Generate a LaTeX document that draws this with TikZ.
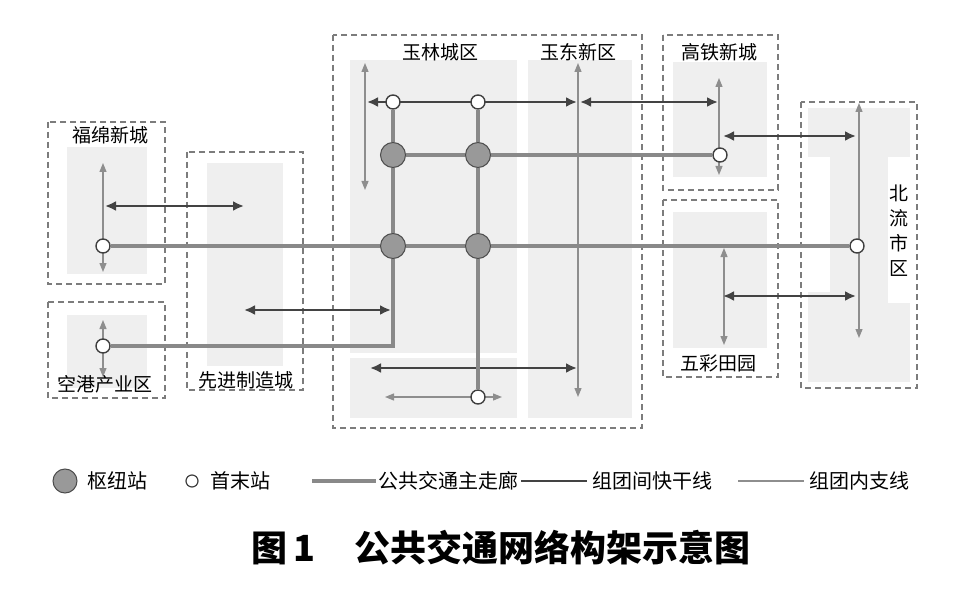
\documentclass[tikz,border=0pt]{standalone}
\usepackage{fontspec}
\newfontfamily\cjk{Noto Sans CJK SC}
\usetikzlibrary{arrows.meta,backgrounds,positioning}

\definecolor{corridorgray}{HTML}{898989}
\definecolor{expressgray}{HTML}{434343}
\definecolor{branchgray}{HTML}{8E8E8E}
\definecolor{zonefill}{HTML}{EFEFEF}
\definecolor{boxgray}{HTML}{7C7C7C}
\definecolor{hubfill}{HTML}{999999}

\begin{document}
\begin{tikzpicture}[x=1pt,y=-1pt,
    every node/.style={font=\cjk\fontsize{19}{19}\selectfont,inner sep=0pt},
    hub/.style={circle,draw=black!70,fill=hubfill,line width=1pt,minimum size=25pt},
    terminal/.style={circle,draw=black!75,fill=white,line width=1.4pt,minimum size=14pt},
    corridor/.style={draw=corridorgray,line width=4.8pt},
    express/.style={draw=expressgray,line width=2.8pt,
      {Latex[length=11pt,width=10pt]}-{Latex[length=11pt,width=10pt]}},
    branch/.style={draw=branchgray,line width=1.2pt,
      {Triangle[length=9pt,width=7pt]}-{Triangle[length=9pt,width=7pt]}},
    zone/.style={fill=zonefill},
    groupbox/.style={draw=boxgray,line width=1.1pt,dash pattern=on 6pt off 4pt}]

  % stations
  \node[terminal] (t-fm) at (103,246) {};
  \node[terminal] (t-kg) at (103,346) {};
  \node[terminal] (t-yl1) at (393,102) {};
  \node[terminal] (t-yl2) at (478,102) {};
  \node[terminal] (t-yd) at (478,397) {};
  \node[terminal] (t-gt) at (720,155) {};
  \node[terminal] (t-bl) at (857,246) {};
  \node[hub] (h-nw) at (393,155) {};
  \node[hub] (h-ne) at (478,155) {};
  \node[hub] (h-sw) at (393,246) {};
  \node[hub] (h-se) at (478,246) {};

  % ends of express and branch lines
  \coordinate (yl-a) at (365,63);   \coordinate (yl-b) at (365,190);
  \coordinate (yd-a) at (578,63);   \coordinate (yd-b) at (578,397);
  \coordinate (fm-a) at (103,163);  \coordinate (fm-b) at (103,272);
  \coordinate (kg-a) at (103,320);  \coordinate (kg-b) at (103,377);
  \coordinate (gt-a) at (719,78);   \coordinate (gt-b) at (719,175);
  \coordinate (bl-a) at (859,103);  \coordinate (bl-b) at (859,338);
  \coordinate (wc-a) at (724,248);  \coordinate (wc-b) at (724,345);
  \coordinate (sb-a) at (385,397);  \coordinate (sb-b) at (502,397);
  \coordinate (ex1-a) at (367,102); \coordinate (ex1-b) at (577,102);
  \coordinate (ex2-a) at (580,102); \coordinate (ex2-b) at (718,102);
  \coordinate (ex3-a) at (105,206); \coordinate (ex3-b) at (244,206);
  \coordinate (ex4-a) at (244,310); \coordinate (ex4-b) at (391,310);
  \coordinate (ex5-a) at (370,368); \coordinate (ex5-b) at (577,368);
  \coordinate (ex6-a) at (723,136); \coordinate (ex6-b) at (856,136);
  \coordinate (ex7-a) at (723,296); \coordinate (ex7-b) at (856,296);

  % labels
  \node (fm) at (110,135) {福绵新城};
  \node (kg) at (105,384) {空港产业区};
  \node (xj) at (246,380) {先进制造城};
  \node (yl) at (440,52) {玉林城区};
  \node (yd) at (578,52) {玉东新区};
  \node (gt) at (719,52) {高铁新城};
  \node (wc) at (718,363) {五彩田园};
  \node[align=center,font=\cjk\fontsize{19}{25}\selectfont] (bl) at (899,231) {北\\流\\市\\区};

  \begin{scope}[on background layer]
    \fill[white] (0,0) rectangle (969,604);
    % built-up areas
    \fill[zone] (67,147) rectangle (147,274);
    \fill[zone] (67,315) rectangle (147,388);
    \fill[zone] (207,163) rectangle (283,366);
    \fill[zone] (350,60) rectangle (517,353);
    \fill[zone] (350,358) rectangle (517,418);
    \fill[zone] (528,60) rectangle (632,418);
    \fill[zone] (673,62) rectangle (767,177);
    \fill[zone] (673,212) rectangle (767,348);
    \fill[zone] (808,108) rectangle (910,382);
    \fill[white] (808,157) rectangle (830,292);
    \fill[white] (888,157) rectangle (910,303);
    % groups
    \draw[groupbox] (48,122) rectangle (165,284);
    \draw[groupbox] (48,302) rectangle (165,398);
    \draw[groupbox] (187,152) rectangle (303,390);
    \draw[groupbox] (333,35) rectangle (642,428);
    \draw[groupbox] (663,35) rectangle (778,190);
    \draw[groupbox] (663,200) rectangle (778,377);
    \draw[groupbox] (801,102) rectangle (917,388);
    % branch lines
    \draw[branch] (fm-a) -- (fm-b);
    \draw[branch] (kg-a) -- (kg-b);
    \draw[branch] (yl-a) -- (yl-b);
    \draw[branch] (yd-a) -- (yd-b);
    \draw[branch] (sb-a) -- (sb-b);
    \draw[branch] (gt-a) -- (gt-b);
    \draw[branch] (bl-a) -- (bl-b);
    \draw[branch] (wc-a) -- (wc-b);
    % express lines
    \foreach \i in {1,...,7}
      \draw[express] (ex\i-a) -- (ex\i-b);
    % main corridors
    \draw[corridor] (t-fm) -- (h-sw) -- (h-se) -- (t-bl);
    \draw[corridor] (t-yl1) -- (h-nw) -- (h-sw) |- (t-kg);
    \draw[corridor] (t-yl2) -- (h-ne) -- (h-se) -- (t-yd);
    \draw[corridor] (h-nw) -- (h-ne) -- (t-gt);
  \end{scope}

  % legend
  \node[hub,minimum size=24pt] (lg-hub) at (65,481) {};
  \node[right=10pt of lg-hub,font=\cjk\fontsize{20}{20}\selectfont] (lg-hub-txt) {枢纽站};
  \node[terminal,minimum size=12pt,line width=1.2pt] (lg-term) at (192,481) {};
  \node[right=12pt of lg-term,font=\cjk\fontsize{20}{20}\selectfont] (lg-term-txt) {首末站};
  \coordinate (lg-cor-a) at (312,481); \coordinate (lg-cor-b) at (376,481);
  \coordinate (lg-ex-a) at (521,481);  \coordinate (lg-ex-b) at (587,481);
  \coordinate (lg-br-a) at (738,481);  \coordinate (lg-br-b) at (804,481);
  \draw[corridor] (lg-cor-a) -- (lg-cor-b);
  \draw[draw=expressgray,line width=2.8pt] (lg-ex-a) -- (lg-ex-b);
  \draw[draw=branchgray,line width=1.2pt] (lg-br-a) -- (lg-br-b);
  \node[right=2pt of lg-cor-b,font=\cjk\fontsize{20}{20}\selectfont] (lg-cor-txt) {公共交通主走廊};
  \node[right=5pt of lg-ex-b,font=\cjk\fontsize{20}{20}\selectfont] (lg-ex-txt) {组团间快干线};
  \node[right=5pt of lg-br-b,font=\cjk\fontsize{20}{20}\selectfont] (lg-br-txt) {组团内支线};

  % caption
  \node[font=\cjk\bfseries\fontsize{36}{36}\selectfont] (title) at (501,548)
    {图\,1\hspace{1.1em}公共交通网络构架示意图};
\end{tikzpicture}
\end{document}
